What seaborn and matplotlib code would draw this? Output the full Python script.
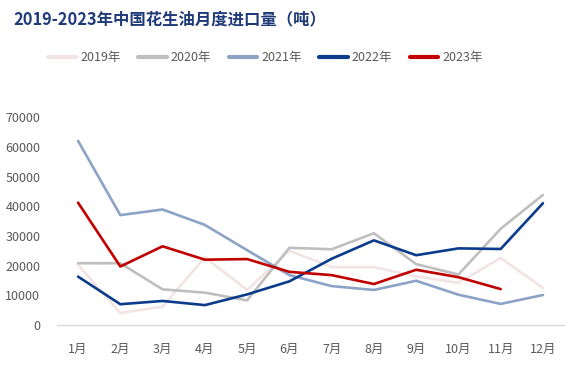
import matplotlib
matplotlib.use("Agg")
import matplotlib.pyplot as plt
import seaborn as sns
import pandas as pd

months = ["1月", "2月", "3月", "4月", "5月", "6月", "7月", "8月", "9月", "10月", "11月", "12月"]
years = ["2019年", "2020年", "2021年", "2022年", "2023年"]
v2019 = [20300, 4000, 6200, 22800, 11800, 25000, 19500, 19500, 16400, 14200, 22600, 12500]
v2020 = [20800, 20800, 12000, 10900, 8300, 26000, 25500, 30900, 20500, 17000, 32400, 43800]
v2021 = [62000, 37000, 38900, 33700, 25200, 16800, 13100, 11800, 14900, 10200, 7100, 10100]
v2022 = [16300, 7000, 8100, 6700, 10300, 14700, 22300, 28500, 23500, 25800, 25600, 41000]
v2023 = [41200, 19700, 26500, 22000, 22200, 17900, 16800, 13800, 18600, 16100, 12100]
colors = ["#F2E4E2", "#BFBFBF", "#8CA3C7", "#0B3C8C", "#C00000"]
yticks = [0, 10000, 20000, 30000, 40000, 50000, 60000, 70000]

rows = []
for yr, vals in zip(years, [v2019, v2020, v2021, v2022, v2023]):
    for i, v in enumerate(vals):
        rows.append({"月": i, "年份": yr, "进口量": v})
df = pd.DataFrame(rows)

sns.set_theme(style="white")
plt.rcParams['font.family'] = ['Noto Sans CJK SC', 'DejaVu Sans']

fig = plt.figure(figsize=(5.75, 3.66), dpi=100)
ax = fig.add_axes([0.099, 0.112, 0.882, 0.568])
sns.lineplot(data=df, x="月", y="进口量", hue="年份", hue_order=years,
             palette=colors, linewidth=1.9, ax=ax, legend=False)

ax.set_xlim(-0.5, 11.5)
ax.set_ylim(0, 70000)
ax.set_xticks(range(12))
ax.set_xticklabels(months, fontsize=9, color="#595959")
ax.set_yticks(yticks)
ax.set_yticklabels([str(t) for t in yticks], fontsize=9, color="#595959")
ax.set_xlabel("")
ax.set_ylabel("")
ax.tick_params(axis="x", length=0, pad=13)
ax.tick_params(axis="y", length=0, pad=12)
for s in ["top", "right", "left"]:
    ax.spines[s].set_visible(False)
ax.spines["bottom"].set_color("#D9D9D9")
ax.spines["bottom"].set_linewidth(1.0)

from matplotlib.lines import Line2D
handles = [Line2D([0], [0], color=c, lw=3) for c in colors]
fig.legend(handles, years, loc="center", bbox_to_anchor=(0.461, 0.842), ncol=5,
           frameon=False, fontsize=9, handlelength=2.3, columnspacing=1.4,
           handletextpad=0.3, labelcolor="#595959")

fig.text(0.024, 0.945, "2019-2023年中国花生油月度进口量（吨）", fontsize=11.8,
         fontweight="bold", color="#1F3A78", ha="left", va="center")

fig.savefig("out.png", dpi=100)
